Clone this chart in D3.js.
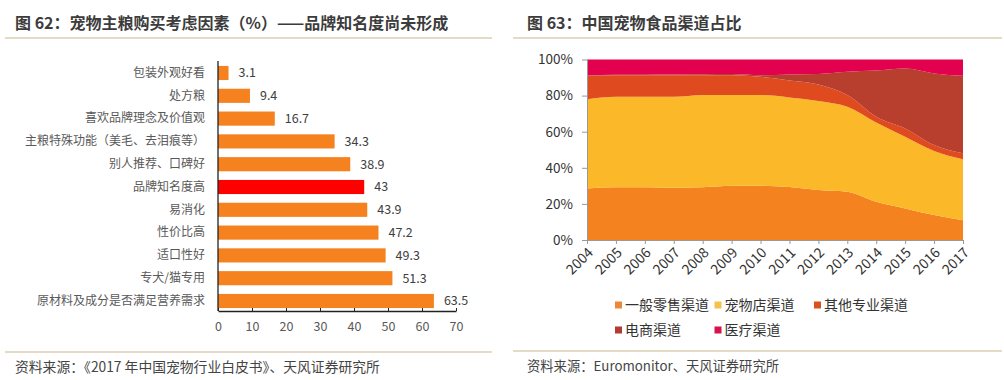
<!DOCTYPE html>
<html><head><meta charset="utf-8">
<script src="https://cdn.jsdelivr.net/npm/d3@7/dist/d3.min.js"></script>
<style>
body{margin:0;background:#fff;}
svg{display:block;}
text{font-family:"Noto Sans CJK SC","Noto Sans",sans-serif;}
</style></head>
<body>
<svg id="c" width="1004" height="380"></svg>
<script>
// ---------- Data: left chart ----------
const factors = ["包装外观好看","处方粮","喜欢品牌理念及价值观","主粮特殊功能（美毛、去泪痕等）","别人推荐、口碑好","品牌知名度高","易消化","性价比高","适口性好","专犬/猫专用","原材料及成分是否满足营养需求"];
const factorValues = [3.1, 9.4, 16.7, 34.3, 38.9, 43, 43.9, 47.2, 49.3, 51.3, 63.5];
const highlightFactor = "品牌知名度高";
const xTicksLeft = [0,10,20,30,40,50,60,70];

// ---------- Data: right chart ----------
const years = ["2004","2005","2006","2007","2008","2009","2010","2011","2012","2013","2014","2015","2016","2017"];
const channels = ["一般零售渠道","宠物店渠道","其他专业渠道","电商渠道","医疗渠道"];
const retail   = [28.6, 29.2, 29.2, 29.0, 29.2, 30.0, 30.0, 29.3, 27.7, 26.8, 21.2, 17.5, 13.8, 11.0];
const petShop  = [49.4, 50.1, 50.1, 50.3, 51.1, 50.3, 50.3, 49.7, 49.3, 47.0, 43.9, 39.7, 35.5, 33.8];
const otherSp  = [13.0, 12.0, 12.0, 12.0, 11.0, 11.0, 10.1,  9.4,  9.2,  6.5,  3.2,  4.6,  3.3,  3.2];
const eComm    = [ 0.1,  0.2,  0.3,  0.4,  0.5,  0.6,  0.9,  3.3,  5.8, 12.9, 25.6, 33.2, 39.7, 43.0];
const medical  = [ 8.9,  8.5,  8.4,  8.3,  8.2,  8.1,  8.7,  8.3,  8.0,  6.8,  6.1,  5.0,  7.7,  9.0];
const yTicksRight = [0, 0.2, 0.4, 0.6, 0.8, 1.0];

const svg = d3.select("#c");
const titleColor = "#3c3c3c";
const ruleColor = "#c9b68e";

// ---------- Headers / footers ----------
svg.append("text").attr("x",15).attr("y",29).attr("font-size",16).attr("font-weight","bold").attr("fill",titleColor)
  .text("图 62：宠物主粮购买考虑因素（%）——品牌知名度尚未形成");
svg.append("text").attr("x",527).attr("y",29).attr("font-size",16).attr("font-weight","bold").attr("fill",titleColor)
  .text("图 63：中国宠物食品渠道占比");
[[5,492,38],[513,1002,38],[5,492,352],[513,1002,351]].forEach(([x1,x2,y])=>{
  svg.append("line").attr("x1",x1).attr("x2",x2).attr("y1",y).attr("y2",y).attr("stroke",ruleColor).attr("stroke-width",1);
});
svg.append("text").attr("x",15).attr("y",372).attr("font-size",13.8).attr("fill","#444")
  .text("资料来源：《2017 年中国宠物行业白皮书》、天风证券研究所");
svg.append("text").attr("x",527).attr("y",371).attr("font-size",13.3).attr("fill","#444")
  .text("资料来源：Euromonitor、天风证券研究所");

// ---------- Left chart ----------
const xL = d3.scaleLinear().domain([0,70]).range([218,456]);
const yL = d3.scaleBand().domain(factors).range([61.6,312.4]).paddingInner(0.38).paddingOuter(0.19);
const gL = svg.append("g");
gL.selectAll("rect.bar").data(factors).join("rect").attr("class","bar")
  .attr("x",xL(0)).attr("y",d=>yL(d)).attr("width",(d,i)=>xL(factorValues[i])-xL(0)).attr("height",yL.bandwidth())
  .attr("fill",d=>d===highlightFactor?"#ff0000":"#f5821f");
gL.selectAll("text.val").data(factors).join("text").attr("class","val")
  .attr("x",(d,i)=>xL(factorValues[i])+10).attr("y",d=>yL(d)+yL.bandwidth()/2).attr("dy","0.35em")
  .attr("font-size",12.5).attr("fill","#404040").text((d,i)=>factorValues[i]);
const axL = gL.append("g").attr("transform","translate(0,311)")
  .call(d3.axisBottom(xL).tickValues(xTicksLeft).tickSizeInner(-3).tickSizeOuter(0).tickPadding(11));
axL.select(".domain").attr("stroke","#222").attr("stroke-width",1.3);
axL.selectAll(".tick line").attr("stroke","#222");
axL.selectAll(".tick text").attr("font-size",12.5).attr("fill","#595959").attr("font-family","'Noto Sans CJK SC',sans-serif");
const ayL = gL.append("g").attr("transform","translate(218,0)")
  .call(d3.axisLeft(yL).tickSize(0).tickPadding(13));
ayL.select(".domain").attr("stroke","#222").attr("stroke-width",1.3).attr("d","M0,61V311");
ayL.selectAll(".tick text").attr("font-size",12).attr("fill","#595959").attr("font-family","'Noto Sans CJK SC',sans-serif");

// ---------- Right chart ----------
const seriesArrays = [retail, petShop, otherSp, eComm, medical];
const colors = ["#f4831f","#fbb829","#df4a1e","#b83e2e","#e2004f"];
const legendColors = ["#e9893a","#f3c14c","#d9531e","#b53a33","#d8124f"];
const table = years.map((y,i)=>{
  const row = {year:y};
  const tot = d3.sum(seriesArrays, s=>s[i]);
  channels.forEach((c,k)=>row[c]=seriesArrays[k][i]/tot);
  return row;
});
const xR = d3.scalePoint().domain(years).range([587,963]);
const yR = d3.scaleLinear().domain([0,1]).range([240,59.5]);
const stack = d3.stack().keys(channels);
const stacked = stack(table);
const area = d3.area().x(d=>xR(d.data.year)).y0(d=>yR(d[0])).y1(d=>yR(d[1])).curve(d3.curveMonotoneX);
const gR = svg.append("g");
gR.selectAll("path.layer").data(stacked).join("path").attr("class","layer")
  .attr("d",area).attr("fill",(d,i)=>colors[i]);

const ayR = gR.append("g").attr("transform","translate(587,0)")
  .call(d3.axisLeft(yR).tickValues(yTicksRight).tickFormat(d3.format(".0%")).tickSizeInner(5).tickSizeOuter(0).tickPadding(9));
ayR.select(".domain").attr("stroke","#999");
ayR.selectAll(".tick line").attr("stroke","#999");
ayR.selectAll(".tick text").attr("font-size",13.5).attr("fill","#333").attr("font-family","'Liberation Sans',Arial,sans-serif");

const axR = gR.append("g").attr("transform","translate(0,240)")
  .call(d3.axisBottom(xR).tickSizeInner(4).tickSizeOuter(0));
axR.select(".domain").attr("stroke","#999");
axR.selectAll(".tick line").attr("stroke","#999");
axR.selectAll(".tick text").attr("font-size",14).attr("fill","#333").attr("font-family","'Liberation Sans',Arial,sans-serif")
  .attr("text-anchor","end").attr("transform","translate(3,10) rotate(-45)").attr("dy","0.35em").attr("y",0).attr("x",0);

// legend
const lg = svg.append("g");
channels.forEach((c,i)=>{
  const col = i%3, row = Math.floor(i/3);
  const lx = 615 + col*99.5, ly = 305 + row*25;
  lg.append("rect").attr("x",lx).attr("y",ly-3.5).attr("width",7).attr("height",7).attr("fill",legendColors[i]);
  lg.append("text").attr("x",lx+10).attr("y",ly).attr("dy","0.35em").attr("font-size",14).attr("fill","#333").text(c);
});
</script>
</body></html>
